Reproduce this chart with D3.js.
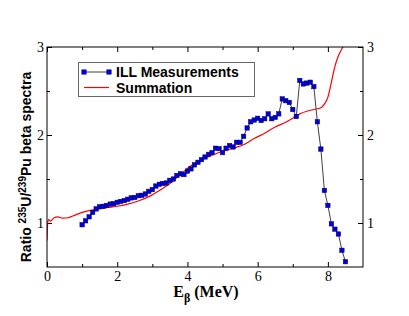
<!DOCTYPE html>
<html>
<head>
<meta charset="utf-8">
<script src="https://d3js.org/d3.v7.min.js"></script>
<style>
  body { margin: 0; background: #fff; }
  svg { display: block; }
  .tick text { font-family: "Liberation Serif", serif; font-size: 14px; fill: #000; }
  .tick line { stroke: #000; }
</style>
</head>
<body>
<div id="chart"></div>
<script>

// ILL measurements (E in MeV, ratio 235U/239Pu)
var illEnergy = [1.0, 1.1, 1.2, 1.3, 1.4, 1.5, 1.6, 1.7, 1.8, 1.9,
                 2.0, 2.1, 2.2, 2.3, 2.4, 2.5, 2.6, 2.7, 2.8, 2.9,
                 3.0, 3.1, 3.2, 3.3, 3.4, 3.5, 3.6, 3.7, 3.8, 3.9,
                 4.0, 4.1, 4.2, 4.3, 4.4, 4.5, 4.6, 4.7, 4.8, 4.9,
                 5.0, 5.1, 5.2, 5.3, 5.4, 5.5, 5.6, 5.7, 5.8, 5.9,
                 6.0, 6.1, 6.2, 6.3, 6.4, 6.5, 6.6, 6.7, 6.8, 6.9,
                 7.0, 7.1, 7.2, 7.3, 7.4, 7.5, 7.6, 7.7, 7.8, 7.9,
                 8.0, 8.1, 8.2, 8.3, 8.4, 8.5];
var illRatio = [0.98, 1.025, 1.07, 1.12, 1.16, 1.185, 1.19, 1.20, 1.215, 1.22,
                1.235, 1.245, 1.255, 1.27, 1.285, 1.29, 1.31, 1.315, 1.33, 1.36,
                1.38, 1.42, 1.44, 1.45, 1.455, 1.485, 1.50, 1.54, 1.56, 1.55,
                1.59, 1.615, 1.66, 1.69, 1.72, 1.75, 1.78, 1.80, 1.85, 1.845,
                1.80, 1.85, 1.88, 1.864, 1.917, 1.917, 1.985, 2.08, 2.15, 2.17,
                2.19, 2.165, 2.185, 2.24, 2.185, 2.20, 2.24, 2.41, 2.39, 2.37,
                2.29, 2.21, 2.62, 2.58, 2.59, 2.60, 2.55, 2.15, 1.84, 1.37,
                1.20, 0.99, 0.93, 0.875, 0.69, 0.56];

// summation calculation
var sumEnergy = [0.0, 0.02, 0.05, 0.1, 0.2, 0.3, 0.45, 0.6, 0.8, 1.0,
                 1.2, 1.4, 1.7, 2.0, 2.3, 2.6, 2.9, 3.2, 3.5, 3.8,
                 4.1, 4.4, 4.7, 5.0, 5.3, 5.6, 5.9, 6.2, 6.5, 6.8,
                 7.0, 7.2, 7.4, 7.6, 7.8, 7.9, 8.0, 8.1, 8.2, 8.3,
                 8.4, 8.5];
var sumRatio = [0.80, 1.0, 1.04, 1.02, 1.06, 1.07, 1.055, 1.06, 1.09, 1.12,
                1.14, 1.155, 1.175, 1.19, 1.215, 1.25, 1.30, 1.37, 1.45, 1.55,
                1.65, 1.72, 1.77, 1.815, 1.85, 1.89, 1.96, 2.02, 2.09, 2.145,
                2.19, 2.24, 2.27, 2.29, 2.31, 2.35, 2.43, 2.60, 2.78, 2.90,
                2.98, 3.05];

var xMajor = [0, 2, 4, 6, 8];
var xMinor = [1, 3, 5, 7];
var yMajor = [1, 2, 3];
var yMinor = [1.5, 2.5];

var W = 409, H = 316;
var margin = {left: 47, top: 47, right: 46, bottom: 49};
var pw = W - margin.left - margin.right;
var ph = H - margin.top - margin.bottom;

var svg = d3.select("#chart").append("svg")
    .attr("width", W)
    .attr("height", H);

var x = d3.scaleLinear().domain([0, 9]).range([0, pw]);
var y = d3.scaleLinear().domain([0.5, 3]).range([ph, 0]);

var g = svg.append("g")
    .attr("transform", "translate(" + margin.left + "," + margin.top + ")");

g.append("clipPath").attr("id", "clip")
  .append("rect").attr("width", pw).attr("height", ph);

// axes, ticks pointing inward
function strip(sel) { sel.select(".domain").remove(); }

g.append("g").attr("transform", "translate(0," + ph + ")")
    .call(d3.axisBottom(x).tickValues(xMajor).tickSize(-5).tickPadding(4).tickFormat(d3.format("d")))
    .call(strip);
g.append("g").attr("transform", "translate(0," + ph + ")")
    .call(d3.axisBottom(x).tickValues(xMinor).tickSize(-3).tickFormat(""))
    .call(strip);
g.append("g")
    .call(d3.axisTop(x).tickValues(xMajor).tickSize(-5).tickFormat(""))
    .call(strip);
g.append("g")
    .call(d3.axisTop(x).tickValues(xMinor).tickSize(-3).tickFormat(""))
    .call(strip);

g.append("g")
    .call(d3.axisLeft(y).tickValues(yMajor).tickSize(-5).tickPadding(3).tickFormat(d3.format("d")))
    .call(strip);
g.append("g")
    .call(d3.axisLeft(y).tickValues(yMinor).tickSize(-3).tickFormat(""))
    .call(strip);
g.append("g").attr("transform", "translate(" + pw + ",0)")
    .call(d3.axisRight(y).tickValues(yMajor).tickSize(-5).tickPadding(4).tickFormat(d3.format("d")))
    .call(strip);
g.append("g").attr("transform", "translate(" + pw + ",0)")
    .call(d3.axisRight(y).tickValues(yMinor).tickSize(-3).tickFormat(""))
    .call(strip);

// summation curve
var line = d3.line()
    .x(function(d) { return x(d[0]); })
    .y(function(d) { return y(d[1]); });

g.append("path")
    .datum(d3.zip(sumEnergy, sumRatio))
    .attr("clip-path", "url(#clip)")
    .attr("fill", "none")
    .attr("stroke", "#ff0000")
    .attr("stroke-width", 1.2)
    .attr("d", line.curve(d3.curveMonotoneX));

// ILL measurements
var ill = d3.zip(illEnergy, illRatio);
g.append("path")
    .datum(ill)
    .attr("fill", "none")
    .attr("stroke", "#404040")
    .attr("stroke-width", 1)
    .attr("d", d3.line().x(function(d) { return x(d[0]); }).y(function(d) { return y(d[1]); }));

g.selectAll(".pt")
    .data(ill)
    .enter().append("rect")
    .attr("class", "pt")
    .attr("x", function(d) { return x(d[0]) - 2.2; })
    .attr("y", function(d) { return y(d[1]) - 2.2; })
    .attr("width", 4.4)
    .attr("height", 4.4)
    .attr("fill", "#0000dd")
    .attr("stroke", "#000055")
    .attr("stroke-width", 0.5);

// frame
g.append("rect")
    .attr("width", pw).attr("height", ph)
    .attr("fill", "none").attr("stroke", "#000").attr("stroke-width", 1);

// legend
var leg = svg.append("g");
leg.append("rect")
    .attr("x", 78.5).attr("y", 62.5).attr("width", 176).attr("height", 34)
    .attr("fill", "#fff").attr("stroke", "#666").attr("stroke-width", 1);
leg.append("line")
    .attr("x1", 84).attr("x2", 109).attr("y1", 72).attr("y2", 72)
    .attr("stroke", "#404040");
[84, 109].forEach(function(px) {
  leg.append("rect")
      .attr("x", px - 2.2).attr("y", 72 - 2.2).attr("width", 4.4).attr("height", 4.4)
      .attr("fill", "#0000dd").attr("stroke", "#000055").attr("stroke-width", 0.5);
});
leg.append("line")
    .attr("x1", 84).attr("x2", 109).attr("y1", 87.5).attr("y2", 87.5)
    .attr("stroke", "#ff0000").attr("stroke-width", 1.2);
leg.append("text").attr("x", 116).attr("y", 77)
    .style("font-family", "Liberation Sans, Arial, sans-serif")
    .style("font-weight", "bold").style("font-size", "14px")
    .text("ILL Measurements");
leg.append("text").attr("x", 116).attr("y", 92.5)
    .style("font-family", "Liberation Sans, Arial, sans-serif")
    .style("font-weight", "bold").style("font-size", "14px")
    .text("Summation");

// x title
var xt = svg.append("text")
    .attr("x", 206).attr("y", 297)
    .attr("text-anchor", "middle")
    .style("font-family", "Liberation Serif, serif")
    .style("font-weight", "bold").style("font-size", "16px");
xt.append("tspan").text("E");
xt.append("tspan").attr("dy", 5).style("font-size", "12px").text("\u03b2");
xt.append("tspan").attr("dy", -5).text(" (MeV)");

// y title
var yt = svg.append("text")
    .attr("transform", "translate(31," + 167 + ") rotate(-90)")
    .attr("text-anchor", "middle")
    .style("font-family", "Liberation Sans, Arial, sans-serif")
    .style("font-weight", "bold").style("font-size", "14px");
yt.append("tspan").text("Ratio ");
yt.append("tspan").attr("dy", -5).style("font-size", "10px").text("235");
yt.append("tspan").attr("dy", 5).text("U/");
yt.append("tspan").attr("dy", -5).style("font-size", "10px").text("239");
yt.append("tspan").attr("dy", 5).text("Pu beta spectra");

</script>
</body>
</html>
